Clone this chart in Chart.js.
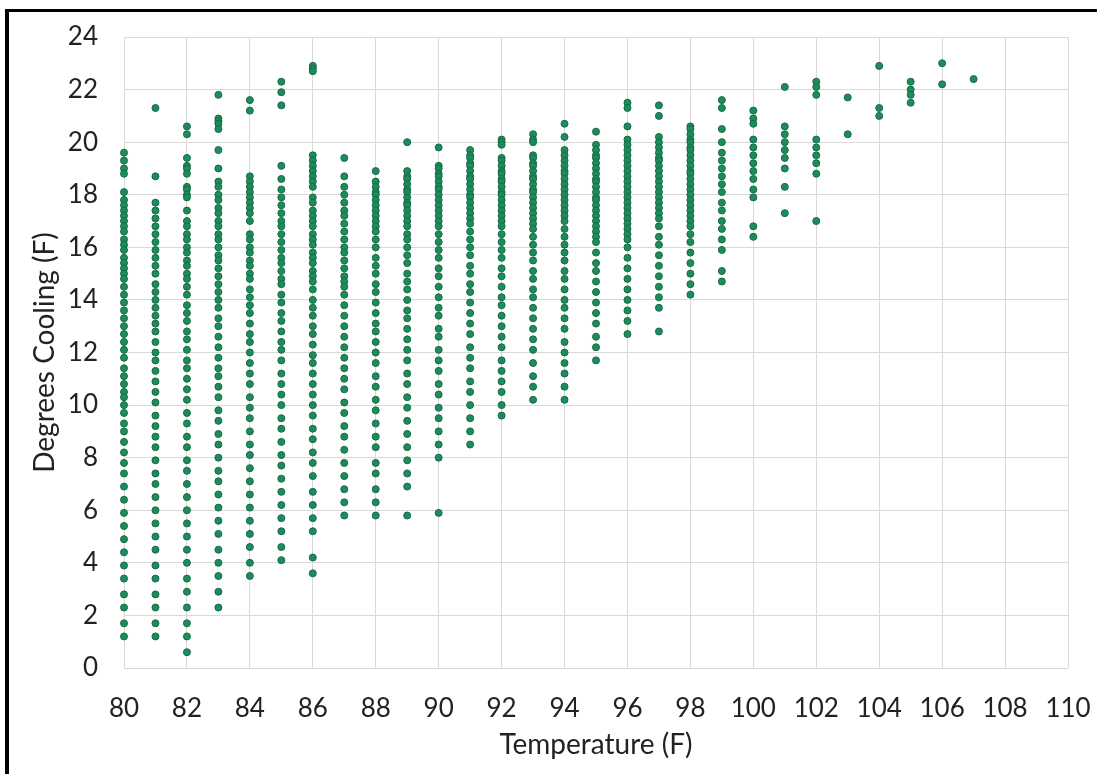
<!DOCTYPE html>
<html>
<head>
<meta charset="utf-8">
<script src="https://cdn.jsdelivr.net/npm/chart.js@4.4.1/dist/chart.umd.min.js"></script>
<style>
  html, body { margin: 0; padding: 0; background: #fff; }
  #wrap { position: relative; width: 1097px; height: 774px; overflow: hidden; }
  #frame {
    position: absolute; left: 5px; top: 9px; width: 1200px; height: 900px;
    border-left: 4px solid #000; border-top: 3px solid #000; pointer-events: none;
  }
  canvas { position: absolute; left: 0; top: 0; }
</style>
</head>
<body>
<div id="wrap">
  <canvas id="coolingChart" width="1097" height="774"></canvas>
  <div id="frame"></div>
</div>
<script>
// degrees of cooling, one array per outside temperature
const c80 = [19.6, 19.3, 19.0, 18.8, 18.1, 17.8, 17.6, 17.4, 17.2, 17.0, 16.8, 16.6, 16.3, 16.1, 15.9, 15.6, 15.4, 15.2, 15.0, 14.8, 14.5, 14.2, 13.9, 13.6, 13.3, 13.0, 12.7, 12.4, 12.1, 11.8, 11.4, 11.1, 10.8, 10.5, 10.3, 10.0, 9.7, 9.3, 9.0, 8.6, 8.2, 7.8, 7.4, 6.9, 6.4, 5.9, 5.4, 4.9, 4.4, 3.9, 3.4, 2.8, 2.3, 1.7, 1.2];
const c81 = [21.3, 18.7, 17.7, 17.4, 17.1, 16.8, 16.5, 16.2, 15.9, 15.6, 15.3, 15.0, 14.6, 14.3, 14.0, 13.7, 13.4, 13.1, 12.8, 12.4, 12.0, 11.7, 11.3, 10.9, 10.5, 10.1, 9.6, 9.2, 8.8, 8.4, 7.9, 7.4, 7.0, 6.5, 6.0, 5.5, 5.0, 4.5, 3.9, 3.4, 2.8, 2.3, 1.7, 1.2];
const c82 = [20.6, 20.3, 19.4, 19.1, 19.0, 18.8, 18.3, 18.2, 18.0, 17.9, 17.4, 17.0, 16.8, 16.5, 16.3, 16.0, 15.8, 15.5, 15.3, 15.0, 14.8, 14.5, 14.2, 13.8, 13.5, 13.2, 12.8, 12.5, 12.1, 11.7, 11.4, 11.0, 10.6, 10.2, 9.7, 9.3, 8.8, 8.4, 7.9, 7.5, 7.0, 6.5, 6.0, 5.5, 5.0, 4.5, 4.0, 3.4, 2.9, 2.3, 1.7, 1.2, 0.6];
const c83 = [21.8, 20.9, 20.8, 20.7, 20.5, 19.7, 19.0, 18.5, 18.3, 18.0, 17.8, 17.5, 17.3, 17.0, 16.8, 16.5, 16.3, 16.0, 15.7, 15.5, 15.2, 14.9, 14.6, 14.3, 14.0, 13.7, 13.3, 13.0, 12.6, 12.2, 11.8, 11.4, 11.1, 10.7, 10.3, 9.8, 9.4, 8.9, 8.5, 8.0, 7.5, 7.1, 6.6, 6.1, 5.6, 5.1, 4.5, 4.0, 3.5, 2.9, 2.3];
const c84 = [21.6, 21.2, 18.7, 18.5, 18.3, 18.1, 17.9, 17.7, 17.5, 17.3, 17.0, 16.5, 16.3, 16.0, 15.8, 15.5, 15.3, 15.0, 14.8, 14.4, 14.1, 13.8, 13.5, 13.1, 12.7, 12.4, 12.0, 11.6, 11.2, 10.8, 10.3, 9.9, 9.5, 9.0, 8.5, 8.1, 7.6, 7.1, 6.6, 6.1, 5.6, 5.1, 4.6, 4.0, 3.5];
const c85 = [22.3, 21.9, 21.4, 19.1, 18.6, 18.2, 17.9, 17.6, 17.3, 17.0, 16.8, 16.5, 16.2, 15.9, 15.6, 15.4, 15.1, 14.8, 14.6, 14.2, 13.9, 13.5, 13.2, 12.8, 12.4, 12.1, 11.7, 11.2, 10.8, 10.4, 10.0, 9.5, 9.1, 8.6, 8.1, 7.7, 7.2, 6.7, 6.2, 5.7, 5.2, 4.6, 4.1];
const c86 = [22.9, 22.8, 22.7, 19.5, 19.3, 19.1, 18.9, 18.7, 18.5, 18.3, 17.9, 17.7, 17.4, 17.2, 17.0, 16.8, 16.5, 16.3, 16.1, 15.8, 15.6, 15.4, 15.1, 14.9, 14.7, 14.4, 14.0, 13.7, 13.4, 13.0, 12.7, 12.3, 11.9, 11.6, 11.2, 10.8, 10.4, 10.0, 9.6, 9.1, 8.7, 8.2, 7.8, 7.3, 6.7, 6.2, 5.7, 5.2, 4.2, 3.6];
const c87 = [19.4, 18.7, 18.3, 18.0, 17.7, 17.4, 17.2, 16.9, 16.6, 16.3, 16.0, 15.8, 15.5, 15.2, 14.9, 14.7, 14.5, 14.2, 13.8, 13.4, 13.0, 12.6, 12.2, 11.8, 11.4, 11.0, 10.6, 10.1, 9.7, 9.2, 8.8, 8.3, 7.8, 7.3, 6.8, 6.3, 5.8];
const c88 = [18.9, 18.5, 18.3, 18.1, 18.0, 17.8, 17.6, 17.4, 17.2, 17.0, 16.8, 16.6, 16.3, 16.0, 15.6, 15.3, 15.0, 14.6, 14.3, 13.9, 13.5, 13.1, 12.8, 12.4, 12.0, 11.6, 11.1, 10.7, 10.2, 9.8, 9.3, 8.8, 8.4, 7.8, 7.4, 6.8, 6.3, 5.8];
const c89 = [20.0, 18.9, 18.7, 18.6, 18.4, 18.2, 18.1, 17.9, 17.7, 17.6, 17.4, 17.2, 17.0, 16.8, 16.5, 16.3, 16.0, 15.7, 15.4, 15.0, 14.7, 14.4, 14.0, 13.6, 13.3, 12.9, 12.5, 12.1, 11.7, 11.2, 10.8, 10.3, 9.9, 9.4, 8.9, 8.4, 7.9, 7.4, 6.9, 5.8];
const c90 = [19.8, 19.1, 19.0, 18.8, 18.7, 18.5, 18.3, 18.2, 18.0, 17.8, 17.6, 17.4, 17.2, 17.0, 16.8, 16.5, 16.2, 15.9, 15.6, 15.2, 14.9, 14.5, 14.1, 13.7, 13.4, 12.9, 12.6, 12.1, 11.7, 11.3, 10.8, 10.4, 9.9, 9.5, 9.0, 8.5, 8.0, 5.9];
const c91 = [19.7, 19.5, 19.4, 19.2, 19.1, 18.9, 18.7, 18.6, 18.4, 18.2, 18.0, 17.9, 17.7, 17.5, 17.3, 17.1, 16.9, 16.6, 16.3, 16.0, 15.7, 15.3, 15.0, 14.6, 14.3, 13.9, 13.5, 13.1, 12.7, 12.2, 11.8, 11.4, 10.9, 10.5, 10.0, 9.5, 9.0, 8.5];
const c92 = [20.1, 20.0, 19.9, 19.4, 19.3, 19.1, 18.9, 18.8, 18.6, 18.5, 18.3, 18.1, 18.0, 17.8, 17.6, 17.4, 17.2, 17.0, 16.8, 16.5, 16.2, 15.9, 15.6, 15.2, 14.9, 14.5, 14.1, 13.8, 13.4, 13.0, 12.6, 12.2, 11.7, 11.3, 10.9, 10.5, 10.0, 9.6];
const c93 = [20.3, 20.1, 20.0, 19.5, 19.4, 19.2, 19.1, 18.9, 18.7, 18.6, 18.4, 18.2, 18.1, 17.9, 17.7, 17.5, 17.3, 17.1, 16.9, 16.7, 16.4, 16.1, 15.8, 15.5, 15.1, 14.8, 14.4, 14.1, 13.7, 13.3, 12.9, 12.5, 12.1, 11.6, 11.1, 10.7, 10.2];
const c94 = [20.7, 20.2, 19.7, 19.5, 19.3, 19.1, 18.9, 18.8, 18.6, 18.4, 18.2, 18.0, 17.8, 17.6, 17.4, 17.2, 17.0, 16.7, 16.4, 16.1, 15.8, 15.5, 15.1, 14.8, 14.4, 14.0, 13.7, 13.3, 12.9, 12.4, 12.0, 11.6, 11.2, 10.7, 10.2];
const c95 = [20.4, 19.9, 19.7, 19.5, 19.4, 19.2, 19.0, 18.8, 18.6, 18.5, 18.3, 18.1, 17.9, 17.8, 17.6, 17.4, 17.2, 17.0, 16.8, 16.6, 16.4, 16.2, 15.8, 15.4, 15.1, 14.7, 14.3, 13.9, 13.5, 13.1, 12.6, 12.2, 11.7];
const c96 = [21.5, 21.3, 20.6, 20.1, 19.9, 19.7, 19.5, 19.3, 19.1, 18.9, 18.7, 18.5, 18.3, 18.1, 17.9, 17.7, 17.5, 17.3, 17.1, 16.9, 16.7, 16.5, 16.3, 16.0, 15.6, 15.2, 14.8, 14.4, 14.0, 13.6, 13.2, 12.7];
const c97 = [21.4, 21.0, 20.2, 20.0, 19.8, 19.6, 19.4, 19.3, 19.1, 18.9, 18.7, 18.5, 18.3, 18.1, 17.9, 17.7, 17.5, 17.3, 17.1, 16.8, 16.4, 16.1, 15.7, 15.3, 14.9, 14.5, 14.1, 13.7, 12.8];
const c98 = [20.6, 20.5, 20.3, 20.1, 20.0, 19.8, 19.7, 19.5, 19.3, 19.1, 18.9, 18.8, 18.6, 18.4, 18.2, 18.0, 17.8, 17.6, 17.4, 17.2, 17.0, 16.8, 16.5, 16.2, 15.8, 15.4, 15.0, 14.6, 14.2];
const c99 = [21.6, 21.3, 20.5, 20.0, 19.6, 19.3, 19.0, 18.7, 18.4, 18.1, 17.7, 17.4, 17.0, 16.7, 16.3, 15.9, 15.1, 14.7];
const c100 = [21.2, 20.9, 20.7, 20.1, 19.8, 19.5, 19.2, 18.9, 18.6, 18.2, 17.9, 16.8, 16.4];
const c101 = [22.1, 20.6, 20.3, 20.0, 19.7, 19.4, 19.0, 18.3, 17.3];
const c102 = [22.3, 22.1, 21.8, 20.1, 19.8, 19.5, 19.2, 18.8, 17.0];
const c103 = [21.7, 20.3];
const c104 = [22.9, 21.3, 21.0];
const c105 = [22.3, 22.0, 21.8, 21.5];
const c106 = [23.0, 22.2];
const c107 = [22.4];

const temps = [80, 81, 82, 83, 84, 85, 86, 87, 88, 89, 90, 91, 92, 93, 94, 95, 96, 97, 98, 99, 100, 101, 102, 103, 104, 105, 106, 107];
const columns = [c80, c81, c82, c83, c84, c85, c86, c87, c88, c89, c90, c91, c92, c93, c94, c95, c96, c97, c98, c99, c100, c101, c102, c103, c104, c105, c106, c107];

const xMin = 80, xMax = 110, xStep = 2;
const yMin = 0, yMax = 24, yStep = 2;

const points = [];
temps.forEach((t, i) => {
  columns[i].forEach(v => points.push({ x: t, y: v }));
});

const labelFont = { family: "Lato, 'Open Sans', sans-serif", size: 26 };
const titleFont = { family: "Lato, 'Open Sans', sans-serif", size: 28 };
const gridColor = '#d9d9d9';

const ctx = document.getElementById('coolingChart').getContext('2d');
new Chart(ctx, {
  type: 'scatter',
  data: {
    datasets: [{
      label: 'Degrees Cooling',
      data: points,
      backgroundColor: '#1d8c5b',
      borderColor: '#156b45',
      borderWidth: 1,
      pointRadius: 3.5,
      pointHoverRadius: 3.5,
      clip: false
    }]
  },
  options: {
    responsive: false,
    animation: false,
    layout: { padding: { left: 0, right: 29, top: 37, bottom: 0 } },
    plugins: {
      legend: { display: false },
      tooltip: { enabled: false }
    },
    scales: {
      x: {
        type: 'linear',
        min: xMin,
        max: xMax,
        ticks: { stepSize: xStep, color: '#222', font: labelFont, padding: 25, maxRotation: 0 },
        grid: { color: gridColor, drawTicks: false, lineWidth: 1 },
        border: { display: false },
        title: { display: true, text: 'Temperature (F)', color: '#222', font: titleFont, padding: { top: 0, bottom: 12 } },
        afterFit: scale => {
          scale.height = 106;
          scale.paddingLeft = 0;
          scale.paddingRight = 0;
        }
      },
      y: {
        type: 'linear',
        min: yMin,
        max: yMax,
        ticks: { stepSize: yStep, color: '#222', font: labelFont, padding: 26 },
        grid: { color: gridColor, drawTicks: false, lineWidth: 1 },
        border: { display: false },
        title: { display: true, text: 'Degrees Cooling (F)', color: '#222', font: titleFont, padding: { top: 28, bottom: 0 } },
        afterFit: scale => {
          scale.width = 124;
          scale.paddingTop = 0;
          scale.paddingBottom = 0;
        }
      }
    }
  }
});
</script>
</body>
</html>
